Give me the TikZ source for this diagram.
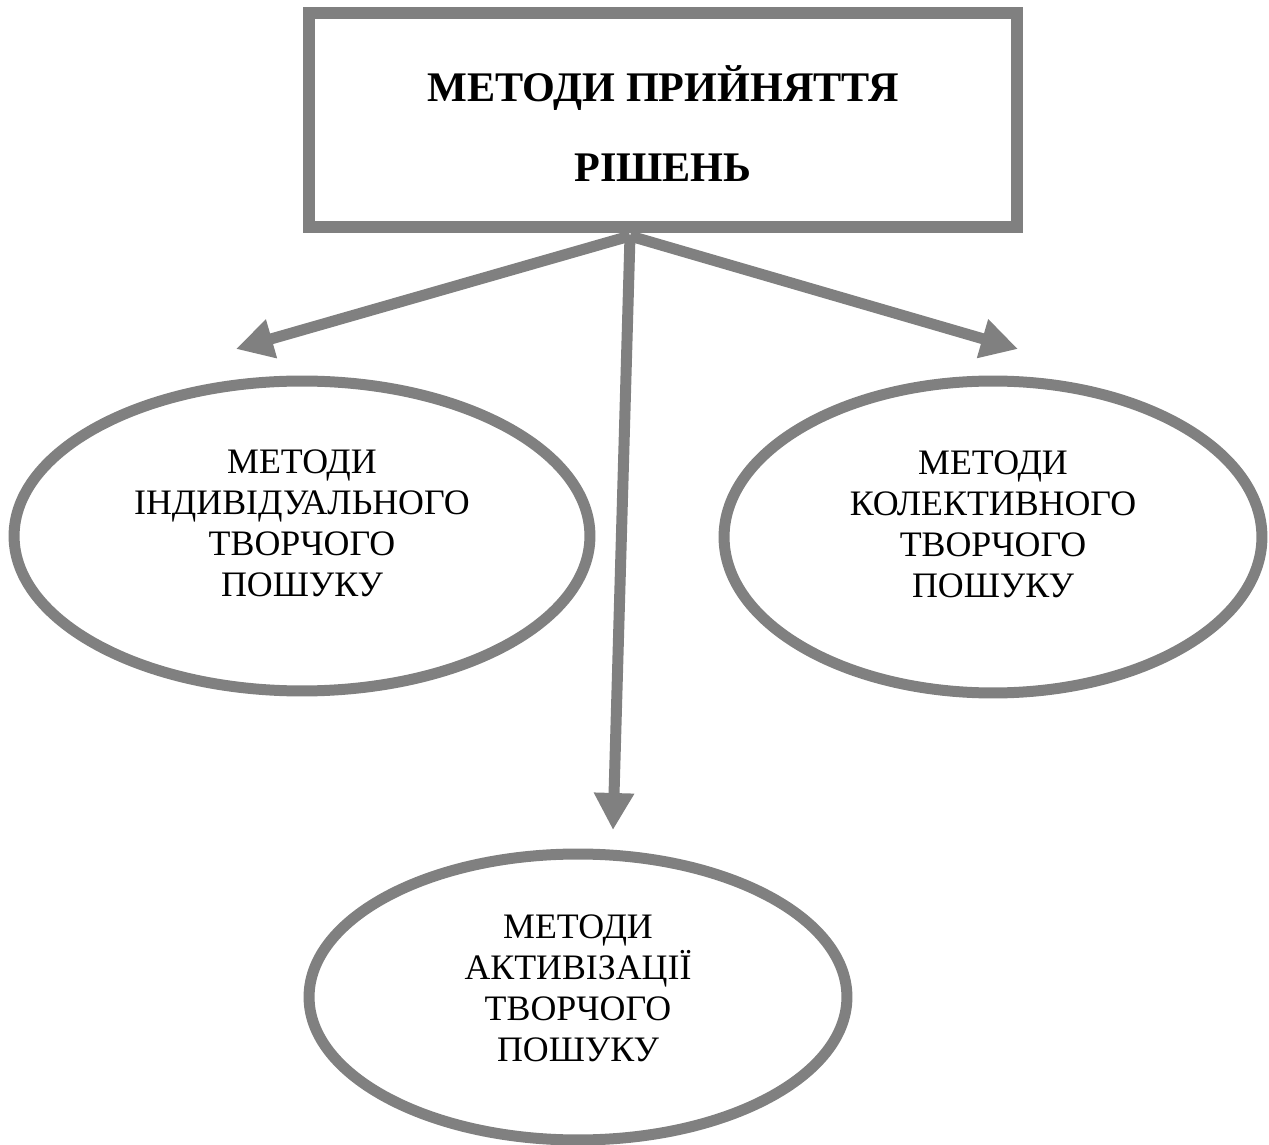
\documentclass[tikz,border=0pt]{standalone}
\usepackage{fontspec}
\setmainfont{Liberation Serif}
\usetikzlibrary{arrows.meta,shapes.geometric}

\begin{document}
\begin{tikzpicture}[x=0.02cm,y=-0.02cm,
  head/.style={draw=gray,line width=0.24cm,minimum width=14.16cm,minimum height=4.28cm,
    align=center,text height=2.46cm,font=\fontsize{24pt}{45.5pt}\selectfont\bfseries},
  method/.style={ellipse,draw=gray,line width=0.22cm,align=center,text depth=0.5cm,
    font=\fontsize{20.4pt}{23.3pt}\selectfont},
  link/.style={draw=gray,line width=0.22cm,-{Triangle[length=0.74cm,width=0.76cm]}}]
\useasboundingbox (0,0) rectangle (1269,1145);
% heading box and the three groups of methods
\node[head] (title) at (663,120) {МЕТОДИ ПРИЙНЯТТЯ\\РІШЕНЬ};
\node[method,minimum width=11.52cm,minimum height=6.2cm] (indiv) at (302,536)
  {МЕТОДИ\\ІНДИВІДУАЛЬНОГО\\ТВОРЧОГО\\ПОШУКУ};
\node[method,minimum width=10.76cm,minimum height=6.24cm] (collect) at (993,537)
  {МЕТОДИ\\КОЛЕКТИВНОГО\\ТВОРЧОГО\\ПОШУКУ};
\node[method,minimum width=10.76cm,minimum height=5.72cm,text depth=0.34cm] (activ) at (578,997)
  {МЕТОДИ\\АКТИВІЗАЦІЇ\\ТВОРЧОГО\\ПОШУКУ};
% arrows leave the box at one point
\coordinate (fork) at (630,236);
\coordinate (toindiv) at (236,349);
\coordinate (tocollect) at (1018,349);
\coordinate (toactiv) at (613,830);
\draw[link] (fork) -- (toindiv);
\draw[link] (fork) -- (toactiv);
\draw[link] (fork) -- (tocollect);
\end{tikzpicture}
\end{document}
